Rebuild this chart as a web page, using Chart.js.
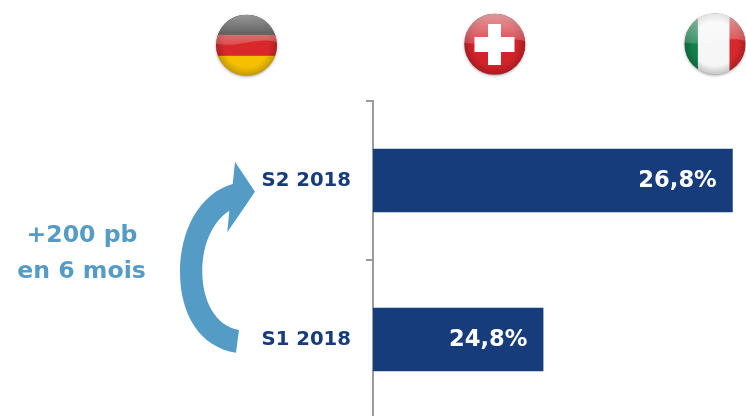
<!DOCTYPE html>
<html><head><meta charset="utf-8">
<style>html,body{margin:0;padding:0;background:#fff;overflow:hidden}#w{position:relative;width:746px;height:416px;overflow:hidden}canvas{display:block}</style>
<script src="https://cdn.jsdelivr.net/npm/chart.js@4"></script>
</head><body><div id="w"><canvas id="c" width="746" height="419"></canvas></div>
<script>
const categories = ['S2 2018', 'S1 2018'];
const values = [26.8, 24.8];
const valueLabels = ['26,8%', '24,8%'];
const noteLines = ['+200 pb', 'en 6 mois'];
const NAVY = '#163c7c', BLUE = '#549cc6', AXIS = '#9a9a9a';
const FONT = '"DejaVu Sans", sans-serif';

function flag(ctx, cx, cy, r, paint) {
  ctx.save();
  ctx.beginPath(); ctx.arc(cx, cy, r, 0, 2 * Math.PI);
  ctx.shadowColor = 'rgba(0,0,0,.35)'; ctx.shadowBlur = 3; ctx.shadowOffsetY = 1;
  ctx.fillStyle = '#999'; ctx.fill();
  ctx.shadowColor = 'transparent';
  ctx.clip();
  paint(cx - r, cy - r, 2 * r);
  let g = ctx.createRadialGradient(cx, cy, r * .72, cx, cy, r);
  g.addColorStop(0, 'rgba(0,0,0,0)'); g.addColorStop(1, 'rgba(0,0,0,.2)');
  ctx.fillStyle = g; ctx.fillRect(cx - r, cy - r, 2 * r, 2 * r);
  g = ctx.createLinearGradient(0, cy - r, 0, cy + 2);
  g.addColorStop(0, 'rgba(255,255,255,.55)'); g.addColorStop(1, 'rgba(255,255,255,.14)');
  ctx.fillStyle = g;
  ctx.beginPath();
  ctx.moveTo(cx - r, cy - r); ctx.lineTo(cx + r, cy - r); ctx.lineTo(cx + r, cy - r * .1);
  ctx.bezierCurveTo(cx + r * .4, cy - r * .3, cx - r * .3, cy + r * .1, cx - r, cy - r * .05);
  ctx.closePath(); ctx.fill();
  ctx.restore();
}

const decor = {
  id: 'decor',
  afterDatasetsDraw(chart) {
    const ctx = chart.ctx;
    const m = chart.getDatasetMeta(0);
    ctx.save();
    ctx.fillStyle = '#fff';
    ctx.font = 'bold 22.6px ' + FONT;
    ctx.textAlign = 'right'; ctx.textBaseline = 'middle';
    m.data.forEach((b, i) => ctx.fillText(valueLabels[i], b.x - 16, b.y + 1));

    ctx.fillStyle = BLUE;
    ctx.textAlign = 'center';
    ctx.font = 'bold 23.6px ' + FONT;
    ctx.fillText(noteLines[0], 82, 236);
    ctx.fillText(noteLines[1], 81.5, 272);

    ctx.beginPath();
    ctx.moveTo(236, 352.7);
    ctx.bezierCurveTo(200, 347, 180, 315, 180, 271.7);
    ctx.bezierCurveTo(180, 230, 200, 193, 232.7, 184);
    ctx.lineTo(235, 161.7); ctx.lineTo(255, 191.7); ctx.lineTo(227.3, 232.3); ctx.lineTo(229.3, 210.7);
    ctx.bezierCurveTo(212, 222, 202.3, 245, 202.3, 271.7);
    ctx.bezierCurveTo(202.3, 300, 215, 326, 239, 330);
    ctx.closePath(); ctx.fill();
    ctx.restore();

    flag(ctx, 246.5, 45.3, 30.5, (x, y, s) => {
      ctx.fillStyle = '#1c1c1c'; ctx.fillRect(x, y, s, 21);
      ctx.fillStyle = '#d8282c'; ctx.fillRect(x, y + 20, s, 22);
      ctx.fillStyle = '#f5c000'; ctx.fillRect(x, y + 41, s, 20);
    });
    flag(ctx, 494.8, 44.2, 30.5, (x, y, s) => {
      ctx.fillStyle = '#d2222a'; ctx.fillRect(x, y, s, s);
    });
    ctx.save();
    ctx.fillStyle = '#fff';
    ctx.fillRect(488, 24, 13, 41); ctx.fillRect(474.5, 37, 40, 15);
    ctx.restore();
    flag(ctx, 715, 44, 30.5, (x, y, s) => {
      ctx.fillStyle = '#12804a'; ctx.fillRect(x, y, s * .22, s);
      ctx.fillStyle = '#f6f6f6'; ctx.fillRect(x + s * .22, y, s * .52, s);
      ctx.fillStyle = '#d8282c'; ctx.fillRect(x + s * .74, y, s * .26, s);
    });
  }
};

new Chart(document.getElementById('c'), {
  type: 'bar',
  data: { labels: categories, datasets: [{ data: values, backgroundColor: NAVY, borderWidth: 0, categoryPercentage: 0.4, barPercentage: 1 }] },
  options: {
    indexAxis: 'y', responsive: false, animation: false,
    layout: { padding: { top: 101, bottom: 0, left: 0, right: 0 } },
    plugins: { legend: { display: false }, tooltip: { enabled: false } },
    scales: {
      x: { display: false, min: 23, max: 26.94 },
      y: {
        afterFit(a) { a.width = 373; a.paddingTop = 0; a.paddingBottom = 0; },
        border: { display: true, color: AXIS, width: 2 },
        grid: { display: true, drawOnChartArea: false, drawTicks: true, tickLength: 7, color: AXIS, lineWidth: 2, offset: true },
        ticks: { color: NAVY, font: { family: FONT, weight: 'bold', size: 19.7 }, padding: 15 }
      }
    }
  },
  plugins: [decor]
});
</script></body></html>
